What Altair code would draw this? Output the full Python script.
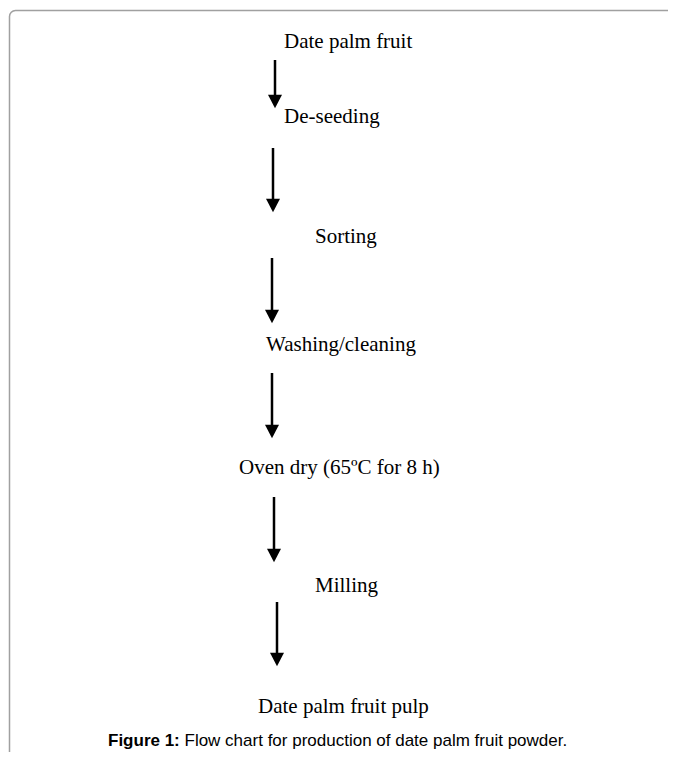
import altair as alt
import pandas as pd

# Flow-chart steps (label, left x, baseline y in figure pixels)
steps = ["Date palm fruit", "De-seeding", "Sorting", "Washing/cleaning",
         "Oven dry (65ºC for 8 h)", "Milling", "Date palm fruit pulp"]
step_x = [284, 284, 315, 266, 239, 315, 258]
step_y = [48, 123, 243, 351, 474, 592, 713]

# Arrows (x, top y, tip y)
arrow_x = [275, 273, 272, 272, 274, 277]
arrow_top = [60, 148, 258, 373, 497, 602]
arrow_tip = [108, 212, 323, 438, 562, 666]

caption_bold = "Figure 1:"
caption_text = "Flow chart for production of date palm fruit powder."

W, H = 660, 744
xs = alt.Scale(domain=[8, 8 + W], range=[0, W])
ys = alt.Scale(domain=[8, 8 + H], range=[0, H])

steps_df = pd.DataFrame({"label": steps, "x": step_x, "y": step_y})
arr_df = pd.DataFrame({"x": arrow_x, "y1": arrow_top, "y2": arrow_tip})
arr_df["yh"] = arr_df["y2"] - 6.5
border_df = pd.DataFrame({"x1": [9.5], "x2": [760], "y1": [10.5], "y2": [900]})
cap_df = pd.DataFrame({"b": [caption_bold], "t": [caption_text], "x": [108], "xt": [184.5], "y": [746]})

border = alt.Chart(border_df).mark_rect(
    fill=None, stroke="#a0a0a0", strokeWidth=1.5, cornerRadius=6, clip=True
).encode(
    x=alt.X("x1:Q", scale=xs, axis=None), x2="x2:Q",
    y=alt.Y("y1:Q", scale=ys, axis=None), y2="y2:Q",
)

shafts = alt.Chart(arr_df).mark_rule(color="black", strokeWidth=2.5).encode(
    x=alt.X("x:Q", scale=xs, axis=None),
    y=alt.Y("y1:Q", scale=ys, axis=None), y2="yh:Q",
)

heads = alt.Chart(arr_df).mark_point(
    shape="M -1 -0.95 L 1 -0.95 L 0 0.95 Z", filled=True, color="black",
    opacity=1, size=196, strokeWidth=0
).encode(
    x=alt.X("x:Q", scale=xs, axis=None),
    y=alt.Y("yh:Q", scale=ys, axis=None),
)

labels = alt.Chart(steps_df).mark_text(
    font="Liberation Serif", fontSize=21, align="left", baseline="alphabetic", color="black"
).encode(
    x=alt.X("x:Q", scale=xs, axis=None),
    y=alt.Y("y:Q", scale=ys, axis=None),
    text="label:N",
)

cap_b = alt.Chart(cap_df).mark_text(
    font="Liberation Sans", fontSize=17, fontWeight="bold", align="left",
    baseline="alphabetic", color="black"
).encode(
    x=alt.X("x:Q", scale=xs, axis=None),
    y=alt.Y("y:Q", scale=ys, axis=None),
    text="b:N",
)
cap_t = alt.Chart(cap_df).mark_text(
    font="Liberation Sans", fontSize=17, align="left", baseline="alphabetic", color="black"
).encode(
    x=alt.X("xt:Q", scale=xs, axis=None),
    y=alt.Y("y:Q", scale=ys, axis=None),
    text="t:N",
)

chart = alt.layer(border, shafts, heads, labels, cap_b, cap_t).properties(
    width=W, height=H, padding=0, autosize=alt.AutoSizeParams(type="none")
).configure_view(stroke=None)

chart.save("out.html", embed_options={"renderer": "svg", "actions": False})
